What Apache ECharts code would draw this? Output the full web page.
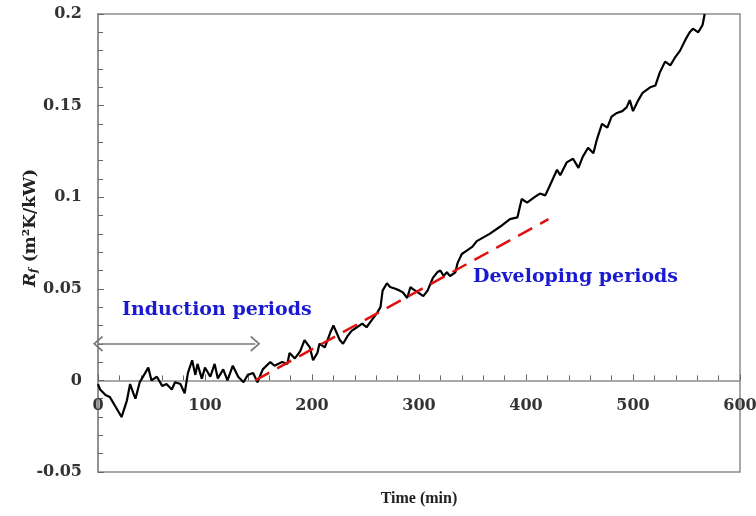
<!DOCTYPE html>
<html>
<head>
<meta charset="utf-8">
<script src="https://cdn.jsdelivr.net/npm/echarts@6/dist/echarts.min.js"></script>
<style>
  html, body { margin: 0; padding: 0; background: #fff; }
  #main { width: 756px; height: 516px; }
</style>
</head>
<body>
<div id="main"></div>
<script>
// time (min) and fouling resistance
var time = [0, 2, 7, 11, 16, 22, 27, 30, 33, 35, 39, 44, 47, 50, 55, 60, 64, 69, 72, 77, 81, 84, 88, 91, 93, 97,
  100, 105, 109, 112, 117, 121, 126, 131, 136, 140, 145, 149, 154, 161, 165, 172, 177, 179, 184, 189, 193, 198,
  201, 205, 207, 212, 217, 220, 223, 226, 229, 233, 237, 242, 247, 251, 256, 261, 264, 266, 270, 273, 278, 282,
  285, 289, 292, 294, 299, 304, 308, 313, 317, 320, 323, 326, 329, 334, 336, 340, 345, 350, 354, 366, 376, 385,
  392, 396, 401, 408, 413, 418, 422, 429, 432, 438, 444, 449, 453, 458, 463, 466, 471, 476, 480, 485, 490, 494,
  497, 500, 505, 509, 516, 521, 525, 530, 535, 539, 544, 549, 553, 556, 561, 565, 567];
var rf = [-0.002, -0.005, -0.008, -0.009, -0.014, -0.020, -0.011, -0.002, -0.007, -0.010, -0.001, 0.004, 0.007,
  0.000, 0.002, -0.003, -0.002, -0.005, -0.001, -0.002, -0.007, 0.004, 0.011, 0.003, 0.009, 0.001,
  0.007, 0.002, 0.009, 0.001, 0.006, 0.000, 0.008, 0.002, -0.001, 0.003, 0.004, -0.001, 0.006, 0.010, 0.008,
  0.010, 0.009, 0.015, 0.012, 0.016, 0.022, 0.018,
  0.011, 0.015, 0.020, 0.018, 0.026, 0.030, 0.026, 0.022, 0.020, 0.024, 0.027, 0.029, 0.031, 0.029, 0.033,
  0.037, 0.040, 0.049, 0.053, 0.051, 0.050, 0.049,
  0.048, 0.045, 0.051, 0.050, 0.048, 0.046, 0.049, 0.056, 0.059, 0.060, 0.057, 0.059, 0.057, 0.059, 0.064,
  0.069, 0.071, 0.073, 0.076, 0.080, 0.084, 0.088,
  0.089, 0.099, 0.097, 0.100, 0.102, 0.101, 0.106, 0.115, 0.112, 0.119, 0.121, 0.116, 0.122, 0.127, 0.124,
  0.131, 0.140, 0.138, 0.144, 0.146, 0.147, 0.149,
  0.153, 0.147, 0.153, 0.157, 0.160, 0.161, 0.168, 0.174, 0.172, 0.176, 0.180, 0.186, 0.190, 0.192, 0.190,
  0.194, 0.200];

// linear fit of the developing period
var fitTime = [147, 421];
var fitRf = [0, 0.088];

// induction period arrow
var arrowTime = [0, 147];
var arrowRf = 0.02;

var xTicks = [0, 600, 100];
var yTicks = [-0.05, 0.2, 0.05];

var serif = '"Liberation Serif", "Times New Roman", serif';
var wide = '"DejaVu Serif", "Liberation Serif", serif';

var curve = time.map(function (t, i) { return [t, rf[i]]; });
var fit = fitTime.map(function (t, i) { return [t, fitRf[i]]; });

var myChart = echarts.init(document.getElementById('main'));

var chevron = 'path://M5,0 L10,9 L9,10 L5,2.5 L1,10 L0,9 Z';
var gridTop = 14, gridBottom = 44, gridH = 516 - gridTop - gridBottom;
// move the x axis up to the zero line (grid height * share below zero)
var zeroShift = gridH * (0 - yTicks[0]) / (yTicks[1] - yTicks[0]);

var option = {
  animation: false,
  backgroundColor: '#fff',
  grid: {
    left: 98, right: 16, top: gridTop, bottom: gridBottom,
    containLabel: false,
    outerBoundsMode: 'none',
    show: true, borderColor: '#8c8c8c', borderWidth: 1.5, backgroundColor: 'transparent'
  },
  xAxis: {
    type: 'value',
    min: xTicks[0], max: xTicks[1], interval: xTicks[2],
    position: 'bottom',
    offset: -zeroShift,
    name: 'Time (min)',
    nameLocation: 'middle',
    nameGap: 110,
    nameMoveOverlap: false,
    nameTextStyle: { fontFamily: serif, fontWeight: 'bold', fontSize: 16, color: '#222' },
    axisLine: { onZero: false, lineStyle: { color: '#8c8c8c', width: 1.5 } },
    axisTick: { inside: true, length: 6, lineStyle: { color: '#666' } },
    minorTick: { show: true, splitNumber: 5, length: 5, lineStyle: { color: '#666' } },
    splitLine: { show: false },
    axisLabel: { fontFamily: wide, fontWeight: 'bold', fontSize: 16, color: '#333', margin: 17 }
  },
  yAxis: {
    type: 'value',
    min: yTicks[0], max: yTicks[1], interval: yTicks[2],
    name: '{i|R}{s|f} (m\u00b2K/kW)',
    nameLocation: 'middle',
    nameRotate: 90,
    nameGap: 58,
    nameMoveOverlap: false,
    nameTextStyle: {
      fontFamily: wide, fontWeight: 'bold', fontSize: 17, color: '#222',
      padding: [0, 0, 0, 30],
      rich: {
        i: { fontFamily: wide, fontWeight: 'bold', fontStyle: 'italic', fontSize: 17, color: '#222' },
        s: { fontFamily: wide, fontWeight: 'bold', fontStyle: 'italic', fontSize: 11, color: '#222', padding: [8, 0, 0, 0] }
      }
    },
    axisLine: { show: true, onZero: false, lineStyle: { color: '#8c8c8c', width: 1.5 } },
    axisTick: { inside: true, length: 6, lineStyle: { color: '#666' } },
    minorTick: { show: true, splitNumber: 5, length: 5, lineStyle: { color: '#666' } },
    splitLine: { show: false },
    axisLabel: { fontFamily: wide, fontWeight: 'bold', fontSize: 16, color: '#333', margin: 16 }
  },
  series: [
    {
      type: 'line',
      data: curve,
      showSymbol: false,
      lineStyle: { color: '#000', width: 2.2 },
      z: 3
    },
    {
      type: 'line',
      data: fit,
      showSymbol: false,
      lineStyle: { color: '#e01010', width: 2.5, type: [16, 9] },
      z: 4
    },
    {
      type: 'line',
      data: [],
      markLine: {
        silent: true,
        symbol: [chevron, chevron],
        symbolSize: [16, 10],
        label: { show: false },
        lineStyle: { color: '#777', width: 1.5, type: 'solid' },
        data: [[{ coord: [arrowTime[0], arrowRf] }, { coord: [arrowTime[1], arrowRf] }]]
      }
    }
  ],
  graphic: [
    {
      type: 'text', left: 122, top: 301,
      style: { text: 'Induction periods', font: 'bold 19px ' + wide, fill: '#1a1ad0' }
    },
    {
      type: 'text', left: 473, top: 268,
      style: { text: 'Developing periods', font: 'bold 19px ' + wide, fill: '#1a1ad0' }
    }
  ]
};

myChart.setOption(option);
</script>
</body>
</html>
